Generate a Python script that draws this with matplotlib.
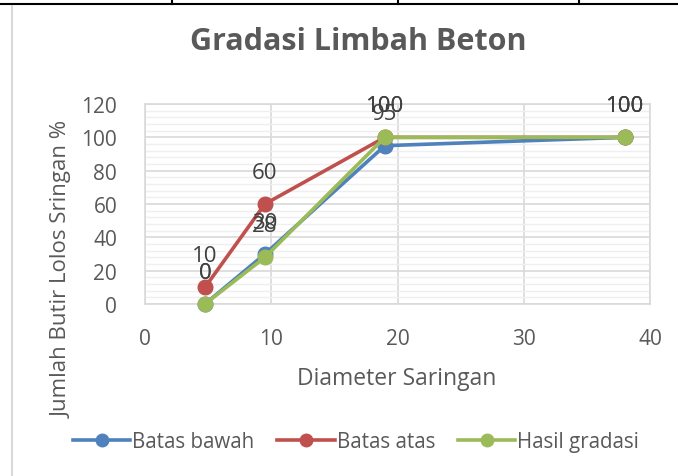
import numpy as np
import matplotlib.pyplot as plt
from matplotlib.ticker import MultipleLocator
from matplotlib.lines import Line2D

# sieve diameter (mm) and percent passing
diameter = [4.75, 9.5, 19, 38]
batas_bawah = [0, 30, 95, 100]
batas_atas = [10, 60, 100, 100]
hasil_gradasi = [0, 28, 100, 100]

series = [
    ("Batas bawah", batas_bawah, "#4F81BD"),
    ("Batas atas", batas_atas, "#C0504D"),
    ("Hasil gradasi", hasil_gradasi, "#9BBB59"),
]

plt.rcParams['font.family'] = ['Open Sans', 'DejaVu Sans']
txt = "#595959"

fig = plt.figure(figsize=(6.78, 4.77), dpi=100)
ax = fig.add_axes([145 / 678, 1 - 305 / 477, 505 / 678, 200 / 477])

for name, vals, col in series:
    ax.plot(diameter, vals, color=col, lw=2.6, marker="o", ms=10.5,
            label=name, zorder=3, clip_on=False)

for name, vals, col in series:
    for x, y in zip(diameter, vals):
        ax.annotate(f"{y}", (x, y), xytext=(0, 23), textcoords="offset points",
                    ha="center", va="center", fontsize=16, color="#404040",
                    annotation_clip=False, zorder=4)

ax.set_xlim(0, 40)
ax.set_ylim(0, 120)
ax.xaxis.set_major_locator(MultipleLocator(10))
ax.yaxis.set_major_locator(MultipleLocator(20))
ax.yaxis.set_minor_locator(MultipleLocator(4))
ax.grid(which="major", color="#D9D9D9", lw=1.2, zorder=0)
ax.grid(which="minor", axis="y", color="#EFEFEF", lw=1.0, zorder=0)
ax.set_axisbelow(True)
for s in ax.spines.values():
    s.set_color("#D9D9D9")
    s.set_linewidth(1.2)
ax.tick_params(which="both", length=0, labelsize=15, colors=txt)
ax.tick_params(axis="y", pad=20)
ax.tick_params(axis="x", pad=17)

ax.set_xlabel("Diameter Saringan", fontsize=16.5, color=txt)
ax.xaxis.set_label_coords(252 / 505, -62 / 200)
ax.set_ylabel("Jumlah Butir Lolos Sringan %", fontsize=16, color=txt)
ax.yaxis.set_label_coords(-72 / 505, 0.18)

fig.text(358 / 678, 1 - 42 / 477, "Gradasi Limbah Beton", ha="center", va="center",
         fontsize=22, fontweight="bold", color=txt)

handles = [Line2D([], [], color=c, lw=2.6, marker="o", ms=9) for _, _, c in series]
fig.legend(handles, [n for n, _, _ in series], loc="center",
           bbox_to_anchor=(356 / 678, 1 - 443 / 477), ncol=3, frameon=False,
           fontsize=14.8, handlelength=2.8, handletextpad=0.1, columnspacing=1.1,
           labelcolor=txt)

# surrounding table/border lines
fig.add_artist(Line2D([0, 1], [1 - 5 / 477, 1 - 5 / 477], color="black", lw=1.5))
for xv in [172, 398, 579]:
    fig.add_artist(Line2D([xv / 678, xv / 678], [1, 1 - 5 / 477], color="black", lw=1.5))
fig.add_artist(Line2D([12 / 678, 12 / 678], [0, 1 - 7 / 477], color="#D9D9D9", lw=1.5))

fig.savefig("out.png", dpi=100)
